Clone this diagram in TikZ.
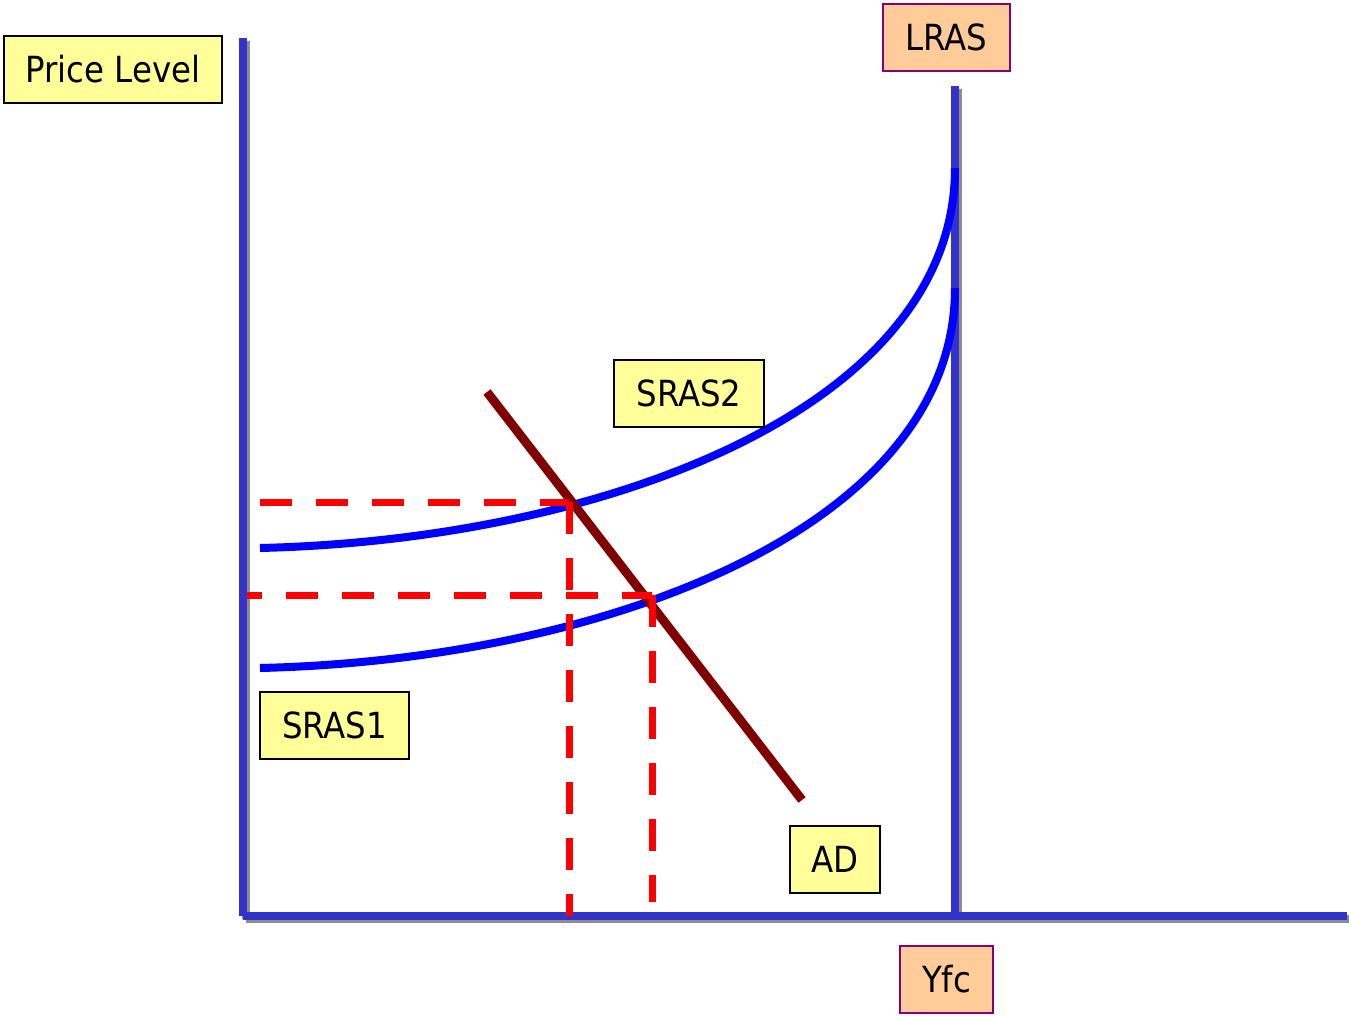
\documentclass[tikz,border=0pt]{standalone}
\usepackage{fontspec}
\setmainfont{DejaVu Sans Condensed}
\definecolor{axisblue}{HTML}{3333CC}
\definecolor{curveblue}{HTML}{0000FF}
\definecolor{adred}{HTML}{800000}
\definecolor{dashred}{HTML}{FF0000}
\definecolor{lblyellow}{HTML}{FFFF99}
\definecolor{lblpeach}{HTML}{FFCC99}
\definecolor{lblpurple}{HTML}{800080}
\definecolor{shadowgray}{HTML}{8C8C8C}
\begin{document}
\begin{tikzpicture}[x=0.75pt,y=-0.75pt,
  lbl/.style={draw=black, line width=2pt, fill=lblyellow, minimum height=50.25pt,
    inner sep=0pt, font=\fontsize{27}{32}\selectfont},
  lblp/.style={lbl, draw=lblpurple, fill=lblpeach},
  axisline/.style={draw=axisblue, line width=6pt},
  axisshadow/.style={draw=shadowgray, line width=6pt},
  curve/.style={draw=curveblue, line width=6pt},
  adline/.style={draw=adred, line width=6.75pt},
  guide/.style={draw=dashred, line width=5.25pt, dash pattern=on 24pt off 18pt}]
\useasboundingbox (0,0) rectangle (1349,1016);
% coordinates
\coordinate (ytop) at (243,38);
\coordinate (origin) at (243,916);
\coordinate (xend) at (1347,916);
\coordinate (ltop) at (955,86);
\coordinate (lbot) at (955,916);
\coordinate (s2a) at (260,548);
\coordinate (s2b) at (955,168);
\coordinate (s1a) at (260,668);
\coordinate (s1b) at (955,288);
\coordinate (ada) at (487,392);
\coordinate (adb) at (802,800);
\coordinate (e2l) at (260,502);
\coordinate (e2) at (569,502);
\coordinate (e2d) at (569,916);
\coordinate (e1l) at (247,595);
\coordinate (e1) at (652,595);
\coordinate (e1d) at (652,902);
% shadows
\draw[axisshadow] ([shift={(3,3)}]ytop) -- ([shift={(3,3)}]origin);
\draw[axisshadow] ([shift={(3,3)}]origin) -- ([shift={(3,3)}]xend);
\draw[axisshadow] ([shift={(3,3)}]ltop) -- ([shift={(3,3)}]lbot);
% axes
\draw[axisline] (ytop) -- (origin);
\draw[axisline] (origin) -- (xend);
\draw[axisline] (ltop) -- (lbot);
% curves
\draw[curve] (s2a) .. controls (600,540) and (955,410) .. (s2b);
\draw[curve] (s1a) .. controls (600,660) and (955,530) .. (s1b);
% AD
\draw[adline] (ada) -- (adb);
% guides
\draw[guide] (e2l) -- (e2);
\draw[guide] (e2) -- (e2d);
\draw[guide, dash phase=12.75pt] (e1l) -- (e1);
\draw[guide] (e1) -- (e1d);
% labels
\node[lbl, minimum width=163.5pt] (price) at (113,69.5) {Price Level};
\node[lblp, minimum width=95.25pt] (lras) at (946.5,37.5) {LRAS};
\node[lblp, minimum width=69.75pt] (yfc) at (946.5,979.5) {Yfc};
\node[lbl, minimum width=112.5pt] (sras2) at (689,393.5) {SRAS2};
\node[lbl, minimum width=111.75pt] (sras1) at (334.5,725.5) {SRAS1};
\node[lbl, minimum width=67.5pt] (ad) at (835,859.5) {AD};
\end{tikzpicture}
\end{document}
